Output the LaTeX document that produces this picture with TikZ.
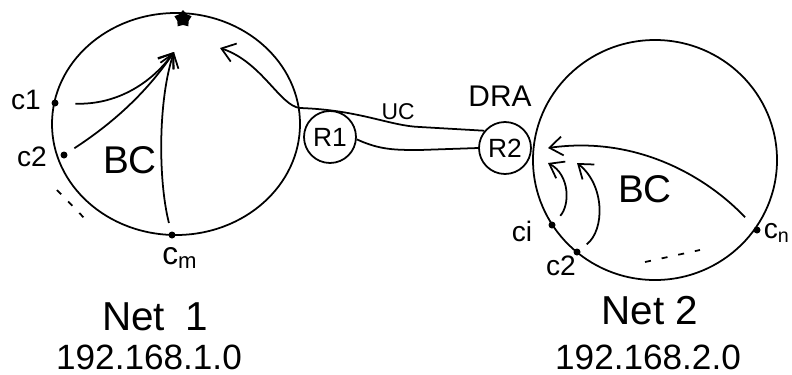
\documentclass[tikz,border=0pt]{standalone}
\usepackage{fontspec}
\setmainfont{Liberation Sans}
\usetikzlibrary{arrows.meta,shapes.geometric}
\begin{document}
\begin{tikzpicture}[x=0.2mm,y=-0.2mm,line width=1pt,
  >={Straight Barb[length=2.6mm,width=3.8mm]},
  cdot/.style={circle,fill,inner sep=0pt,minimum size=1.4mm},
  router/.style={circle,draw,inner sep=0pt,minimum size=10.4mm,font=\fontsize{15}{15}\selectfont},
  net/.style={ellipse,draw,inner sep=0pt},
  lbl/.style={inner sep=0pt,font=\fontsize{16}{16}\selectfont}]
\useasboundingbox (0,0) rectangle (792,374);

% networks and routers
\node[net,minimum width=49.6mm,minimum height=44.4mm] (net1) at (176,124) {};
\node[net,minimum width=48.8mm,minimum height=48mm] (net2) at (655,160) {};
\node[star,fill,inner sep=0pt,minimum size=3.6mm] (top) at (183,19) {};
\node[router] (r1) at (330,137) {R1};
\node[router] (r2) at (505,148) {R2};

% clients
\node[cdot] (c1) at (55,103) {};
\node[cdot] (c2) at (64,155) {};
\node[cdot] (cm) at (172,235) {};
\node[cdot] (ci) at (552,225) {};
\node[cdot] (c2b) at (577,252) {};
\node[cdot] (cn) at (757,230) {};

\coordinate (bctip) at (174,52);
\coordinate (uctip) at (220,48);
\coordinate (r2in) at (548,148);
\coordinate (citip) at (548,163);
\coordinate (c2tip) at (577,163);

% broadcast in net 1
\draw[->,shorten <=3.2mm] (c1) .. controls (115,105) and (150,85) .. (bctip);
\draw[->,shorten <=1.6mm] (c2) .. controls (110,125) and (145,95) .. (bctip);
\draw[->,shorten <=1.6mm] (cm) .. controls (158,180) and (158,100) .. (bctip);
\draw[dash pattern=on 1.2mm off 2mm] (57,190) -- (90,224);

% unicast between the routers
\draw[->] (r2.140) -- (420,127) .. controls (390,126) and (360,110) .. (300,108)
  .. controls (280,106) and (262,62) .. (uctip);
\draw (r1.-5) .. controls (380,150) and (395,150) .. (420,150) -- (r2.west);

% broadcast in net 2
\draw[->,shorten <=2.6mm] (cn) .. controls (710,180) and (640,135) .. (r2in);
\draw[->,shorten <=1.6mm] (ci) .. controls (570,205) and (570,175) .. (citip);
\draw[->,shorten <=1.6mm] (c2b) .. controls (605,230) and (605,185) .. (c2tip);
\draw[dash pattern=on 1.2mm off 2.2mm] (645,262) -- (700,250);

% labels
\node[lbl] (lc1) at (26,100) {c1};
\node[lbl] (lc2) at (32,157) {c2};
\node[lbl,font=\fontsize{18}{18}\selectfont] (lcm) at (180,258) {c\textsubscript{m}};
\node[lbl,font=\fontsize{22}{22}\selectfont] (bc1) at (130,160) {BC};
\node[lbl,font=\fontsize{22}{22}\selectfont] (bc2) at (645,189) {BC};
\node[lbl,font=\fontsize{13}{13}\selectfont] (luc) at (398,112) {UC};
\node[lbl,font=\fontsize{17}{17}\selectfont] (dra) at (500,96) {DRA};
\node[lbl] (lci) at (522,231) {ci};
\node[lbl] (lc2b) at (561,266) {c2};
\node[lbl,anchor=west] (lcn) at (763,233) {c\textsubscript{n}};

\node[lbl,font=\fontsize{23}{23}\selectfont] (name1) at (155,317) {Net\enspace 1};
\node[lbl,font=\fontsize{20}{20}\selectfont] (addr1) at (149,357) {192.168.1.0};
\node[lbl,font=\fontsize{23}{23}\selectfont] (name2) at (650,311) {Net 2};
\node[lbl,font=\fontsize{20}{20}\selectfont] (addr2) at (648,357) {192.168.2.0};
\end{tikzpicture}
\end{document}
